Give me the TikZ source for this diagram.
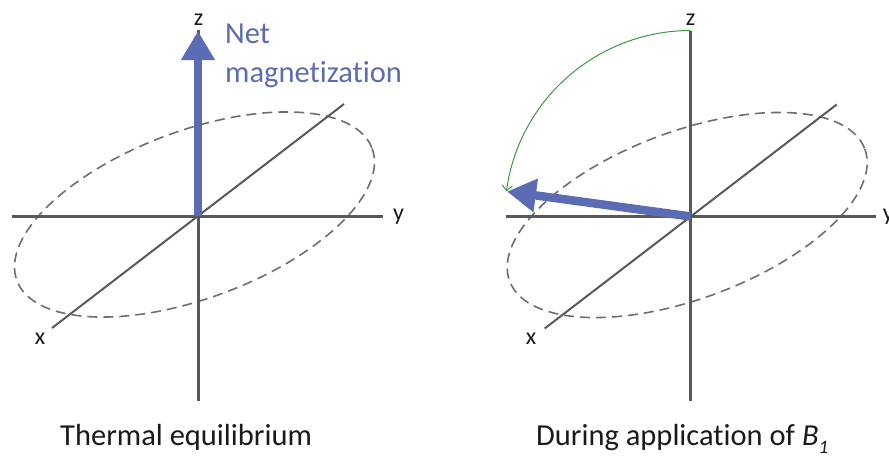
\documentclass[tikz,border=0pt]{standalone}
\usepackage{fontspec}
\setmainfont{Carlito}[Ligatures={NoCommon,NoRare,NoDiscretionary}]
\usetikzlibrary{arrows.meta}
\definecolor{axisgray}{HTML}{595959}
\definecolor{ellgray}{HTML}{6E6E6E}
\definecolor{magblue}{HTML}{5B6BB4}
\definecolor{arcgreen}{HTML}{3A9A44}
\definecolor{txt}{HTML}{1A1A1A}
\tikzset{
  axis/.style={draw=axisgray, line width=3pt},
  diagaxis/.style={draw=axisgray, line width=2pt},
  ell/.style={draw=ellgray, line width=1.6pt, dash pattern=on 10pt off 6pt},
  magvec/.style={draw=magblue, line width=8.5pt, -{Triangle[length=29pt,width=32pt]}},
  rotarc/.style={draw=arcgreen, line width=1pt, -{Straight Barb[length=5pt,width=10pt]}},
  axlabel/.style={inner sep=0pt, text=txt, font=\fontsize{24}{28}\selectfont},
  caption/.style={inner sep=0pt, text=txt, font=\fontsize{30.5}{38.7}\selectfont, anchor=base west},
}
\begin{document}
\begin{tikzpicture}[x=1pt, y=-1pt]
\useasboundingbox (0,0) rectangle (889,456);
% ---------- left diagram ----------
\begin{scope}[shift={(198,216)}]
  \coordinate (LO) at (0,0);
  \coordinate (LHl) at (-186,0);
  \coordinate (LHr) at (185,0);
  \coordinate (LVt) at (0,-186);
  \coordinate (LVb) at (0,185);
  \coordinate (LDl) at (-146,112);
  \coordinate (LDr) at (146,-112);
  \coordinate (LTip) at (0,-185);
  \draw[ell, shift={(-3.5,-1.5)}, rotate=20.4] (0,0) ellipse [x radius=189.5, y radius=83.7];
  \draw[axis] (LHl) -- (LHr);
  \draw[axis] (LVt) -- (LVb);
  \draw[diagaxis] (LDl) -- (LDr);
  \node[axlabel, anchor=base] (Lz) at (0.5,-191) {z};
  \node[axlabel, anchor=base] (Lx) at (-158,128) {x};
  \node[axlabel, anchor=base west] (Ly) at (195,4) {y};
  \draw[magvec] (LO) -- (LTip);
\end{scope}
\node[caption, text=magblue, align=left] (net) at (225,82) {Net\\magnetization};
\node[caption] (cap1) at (60,445) {Thermal equilibrium};
% ---------- right diagram ----------
\begin{scope}[shift={(690.7,216.5)}]
  \coordinate (RO) at (0,0);
  \coordinate (RHl) at (-185,0);
  \coordinate (RHr) at (185,0);
  \coordinate (RVt) at (0,-186);
  \coordinate (RVb) at (0,184);
  \coordinate (RDl) at (-146,112);
  \coordinate (RDr) at (146,-112);
  \coordinate (RTip) at (-183.7,-25);
  \draw[ell, shift={(-3.5,-1.5)}, rotate=20.4] (0,0) ellipse [x radius=189.5, y radius=83.7];
  \draw[axis] (RHl) -- (RHr);
  \draw[axis] (RVt) -- (RVb);
  \draw[diagaxis] (RDl) -- (RDr);
  \node[axlabel, anchor=base] (Rz) at (0,-191) {z};
  \node[axlabel, anchor=base] (Rx) at (-159.7,128) {x};
  \node[axlabel, anchor=base west] (Ry) at (192,4) {y};
  \draw[magvec] (RO) -- (RTip);
  \draw[rotarc] (RVt) arc[start angle=-90, end angle=-172.2, radius=186];
\end{scope}
\node[caption] (cap2) at (536,445) {During application of \textit{B}\raisebox{-8pt}{\fontsize{19}{19}\selectfont\itshape 1}};
\end{tikzpicture}
\end{document}
